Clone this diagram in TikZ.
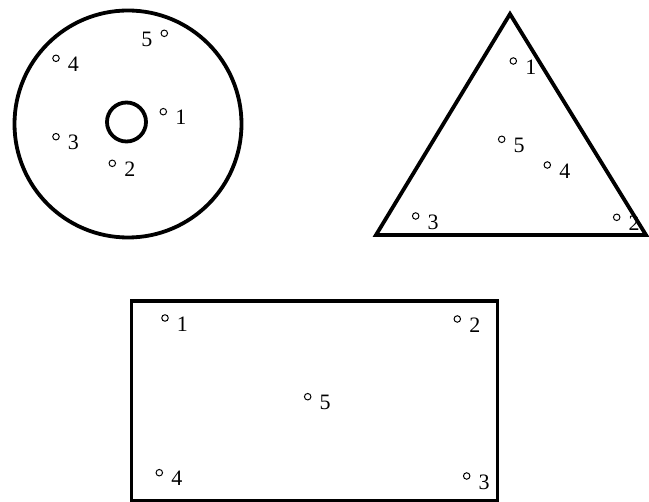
\documentclass[tikz,border=0pt]{standalone}
\usepackage{fontspec}
\setmainfont{Liberation Serif}
\tikzset{
  outline/.style={line width=3.8pt},
  spot/.style={circle, draw, line width=1pt, inner sep=0pt, minimum size=6.5pt},
  num/.style={font=\fontsize{22}{24}\selectfont, inner sep=0pt, yshift=-6pt}
}
\begin{document}
\begin{tikzpicture}[x=1pt, y=-1pt, label distance=8pt]
			\useasboundingbox (0,0) rectangle (649,502);
			% disc with a hole
			\coordinate (disc) at (128,124);
			\draw[outline] (disc) circle[radius=113.5];
			\draw[outline] (126.5,122) circle[radius=19.5];
			\node[spot, label={[num]left:5}] (d5) at (164.3,33.3) {};
			\node[spot, label={[num]right:4}] (d4) at (56,58.3) {};
			\node[spot, label={[num]right:1}] (d1) at (163.3,111.7) {};
			\node[spot, label={[num]right:3}] (d3) at (56,136.7) {};
			\node[spot, label={[num]right:2}] (d2) at (112.3,163.3) {};
			% triangle
			\coordinate (top) at (510,14);
			\coordinate (bl) at (376,235);
			\coordinate (br) at (646,235);
			\draw[outline] (top) -- (br) -- (bl) -- cycle;
			\node[spot, label={[num]right:1}] (t1) at (513.3,61) {};
			\node[spot, label={[num]right:5}] (t5) at (501.7,139.3) {};
			\node[spot, label={[num]right:4}] (t4) at (547.3,165) {};
			\node[spot, label={[num]right:3}] (t3) at (415.7,216) {};
			\node[spot, label={[num]right:2}] (t2) at (616.7,217.3) {};
			% rectangle
			\draw[outline] (131.5,301) rectangle (497.5,501);
			\node[spot, label={[num]right:1}] (r1) at (165,318) {};
			\node[spot, label={[num]right:2}] (r2) at (457.3,319) {};
			\node[spot, label={[num]right:5}] (r5) at (307.7,396.7) {};
			\node[spot, label={[num]right:4}] (r4) at (159.3,472.7) {};
			\node[spot, label={[num]right:3}] (r3) at (466.7,476) {};
		\end{tikzpicture}
\end{document}
